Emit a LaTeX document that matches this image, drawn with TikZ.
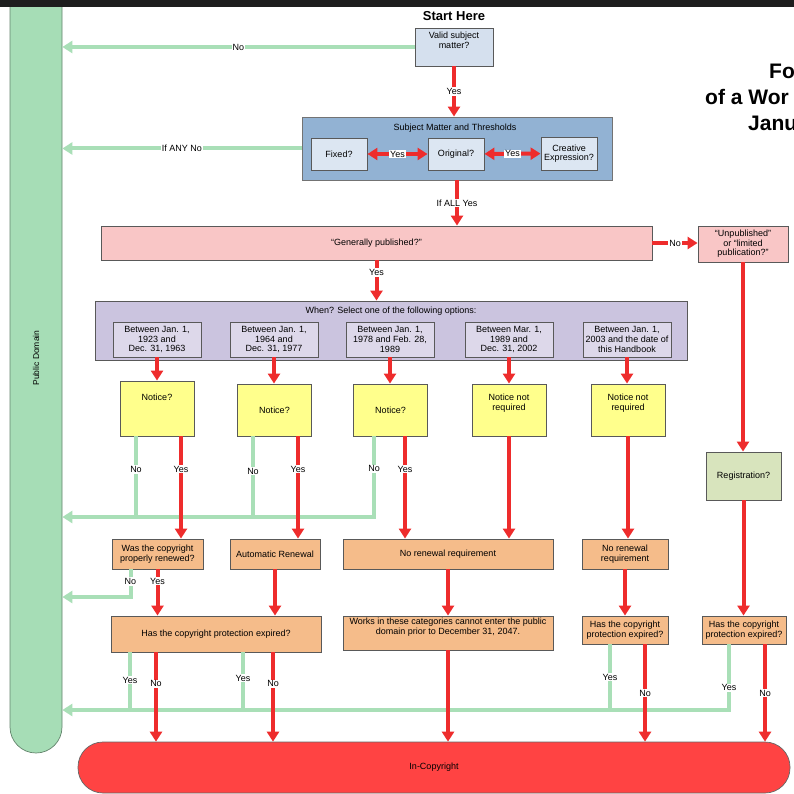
\documentclass[tikz,border=0pt]{standalone}
\usepackage{fontspec}
\setmainfont{Liberation Sans}
\usetikzlibrary{arrows.meta, calc, positioning}
\definecolor{topband}{HTML}{1E1E1E}
\definecolor{pdgreen}{HTML}{A6DDB6}
\definecolor{nogreen}{HTML}{A9DFB7}
\definecolor{yesred}{HTML}{EE2C2C}
\definecolor{validblue}{HTML}{D5E0EE}
\definecolor{smtblue}{HTML}{92B2D3}
\definecolor{smtinner}{HTML}{DCE6F2}
\definecolor{pubpink}{HTML}{F9C6C6}
\definecolor{whenlilac}{HTML}{CBC4DF}
\definecolor{wheninner}{HTML}{DDD8EA}
\definecolor{noticeyellow}{HTML}{FFFF8C}
\definecolor{renewtan}{HTML}{F5BC8A}
\definecolor{regolive}{HTML}{D8E4BD}
\definecolor{incopyred}{HTML}{FF4343}
\tikzset{
	box/.style={
		rectangle,
		draw=black!65, line width=0.9pt,
		align=center, inner sep=1pt,
		font=\fontsize{9}{9.6}\selectfont
	},
	validbox/.style={box, fill=validblue},
	smtbox/.style={box, fill=smtblue, draw=black!55},
	smtsub/.style={box, fill=smtinner},
	pubbox/.style={box, fill=pubpink},
	whenbox/.style={box, fill=whenlilac},
	whensub/.style={box, fill=wheninner, minimum width=88, minimum height=35},
	noticebox/.style={box, fill=noticeyellow, minimum width=74, minimum height=52},
	renewbox/.style={box, fill=renewtan},
	regbox/.style={box, fill=regolive},
	pdbar/.style={rectangle, rounded corners=26, fill=pdgreen, draw=pdgreen!60!black, line width=0.7pt, font=\fontsize{8.5}{9}\selectfont},
	incopy/.style={rectangle, rounded corners=25, fill=incopyred, draw=black!60, line width=0.7pt, font=\fontsize{9}{9.6}\selectfont},
	yesline/.style={draw=yesred, line width=4pt},
	noline/.style={draw=nogreen, line width=4pt},
	yesarr/.style={yesline, -{Triangle[length=10pt,width=12pt]}},
	noarr/.style={noline, -{Triangle[length=10pt,width=12pt]}},
	lbl/.style={fill=white, inner sep=1pt, font=\fontsize{9}{9.6}\selectfont},
	headtxt/.style={anchor=base west, inner sep=0pt, font=\bfseries\fontsize{21}{24}\selectfont}
}
\begin{document}
\begin{tikzpicture}[x=1pt,y=-1pt]
	\useasboundingbox (0,0) rectangle (794,794);
	\clip (0,0) rectangle (794,794);
	\fill[white] (0,0) rectangle (794,794);

	% end states
	\node[pdbar, minimum width=52, minimum height=790] (pd) at (36,358) {\rotatebox{90}{Public Domain}};
	\node[incopy, minimum width=712, minimum height=51] (inc) at (434,767.5) {In-Copyright};
	\fill[topband] (0,0) rectangle (794,7);

	% title (cut at the right edge)
	\node[headtxt] (head1) at (769,79) {Fo};
	\node[headtxt] (head2) at (705,105) {of a Wor};
	\node[headtxt] (head3) at (748,131) {Janu};

	% top questions
	\node[font=\bfseries\fontsize{13}{14}\selectfont] (start) at (454,16) {Start Here};
	\node[validbox, minimum width=78, minimum height=38] (valid) at (454,47) {Valid subject\\matter?\\[4pt]};
	\node[smtbox, minimum width=310, minimum height=63] (smt) at (457,148.5) {};
	\node[font=\fontsize{9}{9.6}\selectfont] (smttitle) at (455,128) {Subject Matter and Thresholds};
	\node[smtsub, minimum width=56, minimum height=32] (fixed) at (339,154) {Fixed?};
	\node[smtsub, minimum width=56, minimum height=32] (orig) at (456,154) {Original?};
	\node[smtsub, minimum width=56, minimum height=33] (creat) at (569,153.5) {Creative\\Expression?};

	\node[pubbox, minimum width=551, minimum height=34] (pub) at (376.5,243) {``Generally published?''};
	\node[pubbox, minimum width=90, minimum height=36] (unpub) at (743,244) {``Unpublished''\\or ``limited\\publication?''};

	\node[whenbox, minimum width=592, minimum height=59] (when) at (391,330.5) {};
	\node[font=\fontsize{9}{9.6}\selectfont] (whentitle) at (391,311) {When? Select one of the following options:};
	\node[whensub] (w1) at (157,339.5) {Between Jan. 1,\\1923 and\\Dec. 31, 1963};
	\node[whensub] (w2) at (274,339.5) {Between Jan. 1,\\1964 and\\Dec. 31, 1977};
	\node[whensub] (w3) at (390,339.5) {Between Jan. 1,\\1978 and Feb. 28,\\1989};
	\node[whensub] (w4) at (509,339.5) {Between Mar. 1,\\1989 and\\Dec. 31, 2002};
	\node[whensub] (w5) at (627,339.5) {Between Jan. 1,\\2003 and the date of\\this Handbook};

	\node[noticebox, minimum height=55, text depth=22pt] (n1) at (157,408.5) {Notice?};
	\node[noticebox] (n2) at (274.5,410) {Notice?};
	\node[noticebox] (n3) at (390.5,410) {Notice?};
	\node[noticebox] (n4) at (509,410) {Notice not\\required\\[6pt]};
	\node[noticebox] (n5) at (628,410) {Notice not\\required\\[6pt]};

	\node[regbox, minimum width=75, minimum height=48] (reg) at (743.5,476) {Registration?};

	% renewal row
	\node[renewbox, minimum width=91, minimum height=30] (renew) at (157.5,554) {Was the copyright\\properly renewed?};
	\node[renewbox, minimum width=90, minimum height=30] (auto) at (275,554) {Automatic Renewal};
	\node[renewbox, minimum width=210, minimum height=30] (norenA) at (448,554) {No renewal requirement};
	\node[renewbox, minimum width=86, minimum height=30] (norenB) at (625,554) {No renewal\\requirement};

	% expiry row
	\node[renewbox, minimum width=210, minimum height=36] (expA) at (216,634) {Has the copyright protection expired?};
	\node[renewbox, minimum width=210, minimum height=34] (works) at (448,633) {Works in these categories cannot enter the public\\domain prior to December 31, 2047.\\[4pt]};
	\node[renewbox, minimum width=86, minimum height=28] (expB) at (625,630) {Has the copyright\\protection expired?};
	\node[renewbox, minimum width=84, minimum height=28] (expC) at (744,630) {Has the copyright\\protection expired?};

	% lanes and buses
	\coordinate (nobus) at (0,517);
	\coordinate (renewbus) at (0,597);
	\coordinate (endbus) at (0,710);
	\coordinate (n1no) at ($(n1.south)+(-21,0)$);
	\coordinate (n2no) at ($(n2.south)+(-21.5,0)$);
	\coordinate (n3no) at ($(n3.south)+(-16.5,0)$);
	\coordinate (n1yes) at ($(n1.south)+(24,0)$);
	\coordinate (n2yes) at ($(n2.south)+(23.5,0)$);
	\coordinate (n3yes) at ($(n3.south)+(14.5,0)$);
	\coordinate (renewno) at ($(renew.south)+(-27,0)$);
	\coordinate (expAyes1) at ($(expA.south)+(-86,0)$);
	\coordinate (expAno1) at ($(expA.south)+(-60,0)$);
	\coordinate (expAyes2) at ($(expA.south)+(27,0)$);
	\coordinate (expAno2) at ($(expA.south)+(57,0)$);
	\coordinate (expByes) at ($(expB.south)+(-15,0)$);
	\coordinate (expBno) at ($(expB.south)+(20,0)$);
	\coordinate (expCyes) at ($(expC.south)+(-15,0)$);
	\coordinate (expCno) at ($(expC.south)+(21,0)$);

	% "No" paths to the public domain
	\draw[noarr] (valid.west) -- node[lbl]{No} (valid.west -| pd.east);
	\draw[noarr] (smt.west) -- node[lbl]{If ANY No} (smt.west -| pd.east);
	\draw[noarr] (n3no) |- node[lbl,pos=0.2]{No} (pd.east |- nobus);
	\draw[noline] (n1no) -- node[lbl,pos=0.41]{No} (n1no |- nobus);
	\draw[noline] (n2no) -- node[lbl,pos=0.43]{No} (n2no |- nobus);
	\draw[noarr] (renewno) |- node[lbl,pos=0.22]{No} (pd.east |- renewbus);
	\draw[noarr] (expCyes) |- node[lbl,pos=0.33]{Yes} (pd.east |- endbus);
	\draw[noline] (expAyes1) -- node[lbl,pos=0.48]{Yes} (expAyes1 |- endbus);
	\draw[noline] (expAyes2) -- node[lbl,pos=0.45]{Yes} (expAyes2 |- endbus);
	\draw[noline] (expByes) -- node[lbl,pos=0.5]{Yes} (expByes |- endbus);

	% "Yes" paths
	\draw[yesarr] (valid.south) -- node[lbl]{Yes} (valid.south |- smt.north);
	\draw[yesline, {Triangle[length=10pt,width=12pt]}-{Triangle[length=10pt,width=12pt]}] (fixed) -- node[lbl]{Yes} (orig);
	\draw[yesline, {Triangle[length=10pt,width=12pt]}-{Triangle[length=10pt,width=12pt]}] (orig) -- node[lbl]{Yes} (creat);
	\draw[yesarr] (smt.south) -- node[lbl]{If ALL Yes} (smt.south |- pub.north);
	\draw[yesarr] (pub.east) -- node[lbl]{No} (pub.east -| unpub.west);
	\draw[yesarr] (pub.south) -- node[lbl,pos=0.3]{Yes} (pub.south |- when.north);
	\foreach \i in {1,...,5} { \draw[yesarr] (w\i.south) -- (w\i.south |- n\i.north); }
	\draw[yesarr] (n1yes) -- node[lbl,pos=0.32]{Yes} (n1yes |- renew.north);
	\draw[yesarr] (n2yes) -- node[lbl,pos=0.32]{Yes} (n2yes |- auto.north);
	\draw[yesarr] (n3yes) -- node[lbl,pos=0.32]{Yes} (n3yes |- norenA.north);
	\draw[yesarr] (n4.south) -- (n4.south |- norenA.north);
	\draw[yesarr] (n5.south) -- (n5.south |- norenB.north);
	\draw[yesarr] (unpub.south) -- (unpub.south |- reg.north);
	\draw[yesarr] (reg.south) -- (reg.south |- expC.north);
	\draw[yesarr] (renew.south) -- node[lbl,pos=0.25]{Yes} (renew.south |- expA.north);
	\draw[yesarr] (auto.south) -- (auto.south |- expA.north);
	\draw[yesarr] (norenA.south) -- (norenA.south |- works.north);
	\draw[yesarr] (norenB.south) -- (norenB.south |- expB.north);
	\draw[yesarr] (expAno1) -- node[lbl,pos=0.35]{No} (expAno1 |- inc.north);
	\draw[yesarr] (expAno2) -- node[lbl,pos=0.35]{No} (expAno2 |- inc.north);
	\draw[yesarr] (works.south) -- (works.south |- inc.north);
	\draw[yesarr] (expBno) -- node[lbl,pos=0.5]{No} (expBno |- inc.north);
	\draw[yesarr] (expCno) -- node[lbl,pos=0.5]{No} (expCno |- inc.north);
\end{tikzpicture}
\end{document}
